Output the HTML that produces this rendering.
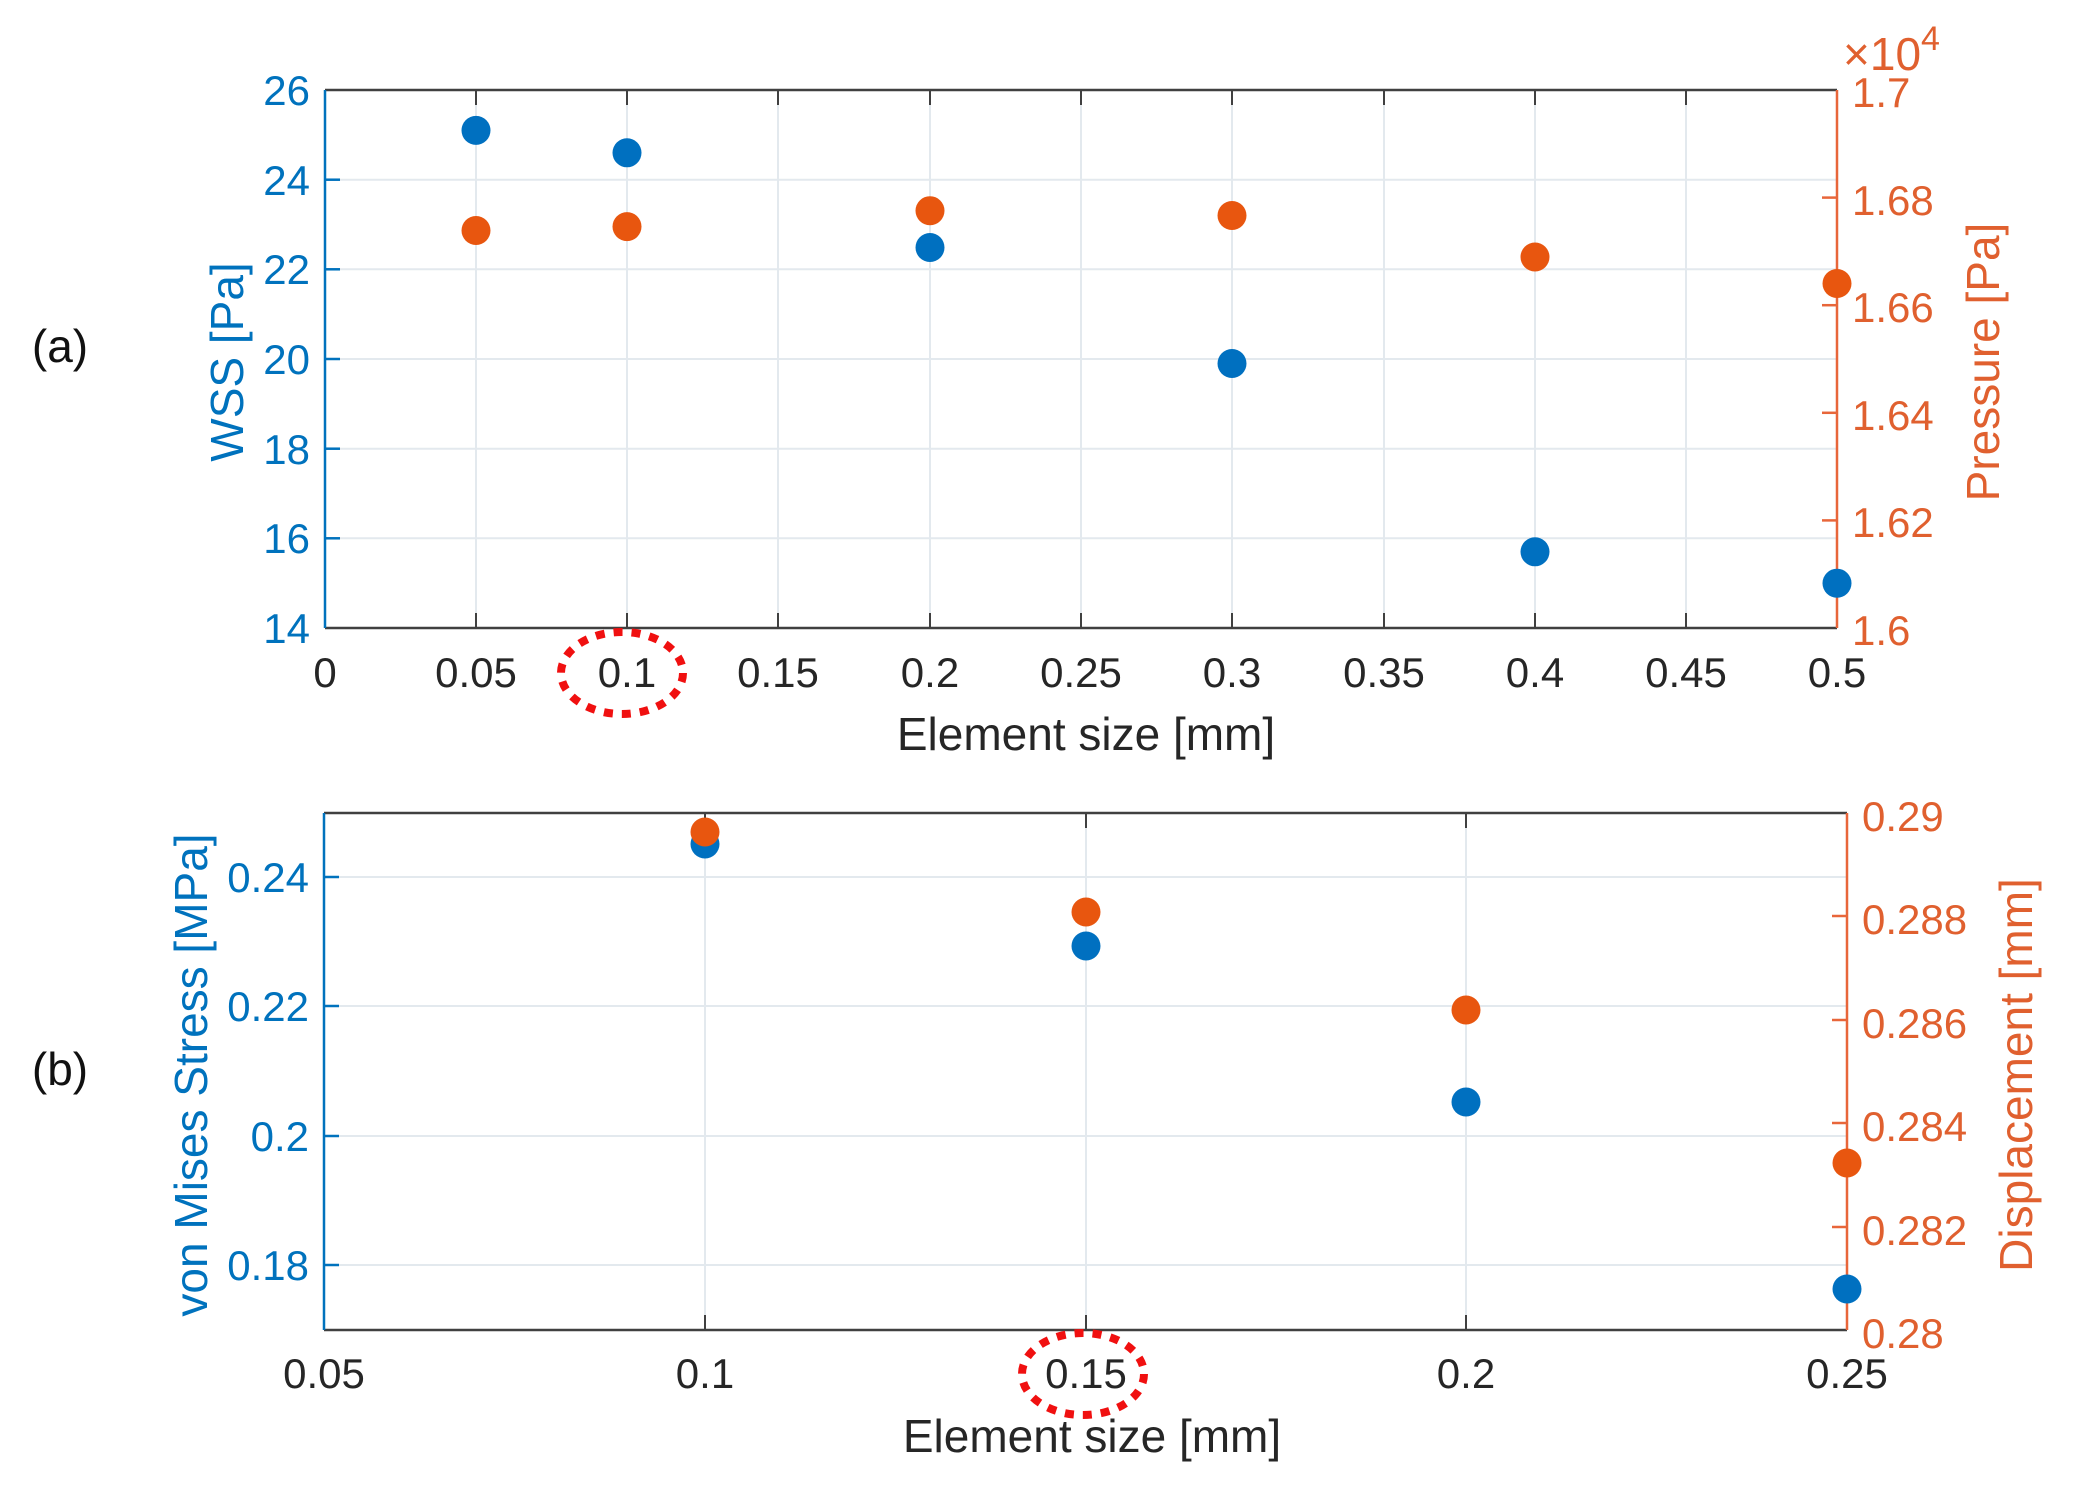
<!DOCTYPE html>
<html><head><meta charset="utf-8"><style>html,body{margin:0;padding:0;background:#fff}svg{display:block}</style></head>
<body>
<svg width="2076" height="1493" viewBox="0 0 2076 1493" xmlns="http://www.w3.org/2000/svg" font-family="Liberation Sans, Arial, sans-serif">
<rect width="2076" height="1493" fill="#fff"/>
<!-- Panel a grid -->
<g stroke="#e3e9ee" stroke-width="2">
<line x1="476" y1="90" x2="476" y2="628"/><line x1="627" y1="90" x2="627" y2="628"/><line x1="778" y1="90" x2="778" y2="628"/><line x1="930" y1="90" x2="930" y2="628"/><line x1="1081" y1="90" x2="1081" y2="628"/><line x1="1232" y1="90" x2="1232" y2="628"/><line x1="1384" y1="90" x2="1384" y2="628"/><line x1="1535" y1="90" x2="1535" y2="628"/><line x1="1686" y1="90" x2="1686" y2="628"/>
<line x1="325" y1="538.3" x2="1837" y2="538.3"/><line x1="325" y1="448.7" x2="1837" y2="448.7"/><line x1="325" y1="359" x2="1837" y2="359"/><line x1="325" y1="269.3" x2="1837" y2="269.3"/><line x1="325" y1="179.7" x2="1837" y2="179.7"/>
</g>
<g stroke="#404040" stroke-width="2.5"><line x1="325" y1="90" x2="1837" y2="90"/><line x1="325" y1="628" x2="1837" y2="628"/></g>
<g stroke="#404040" stroke-width="2">
<line x1="476" y1="628" x2="476" y2="613"/><line x1="627" y1="628" x2="627" y2="613"/><line x1="778" y1="628" x2="778" y2="613"/><line x1="930" y1="628" x2="930" y2="613"/><line x1="1081" y1="628" x2="1081" y2="613"/><line x1="1232" y1="628" x2="1232" y2="613"/><line x1="1384" y1="628" x2="1384" y2="613"/><line x1="1535" y1="628" x2="1535" y2="613"/><line x1="1686" y1="628" x2="1686" y2="613"/>
<line x1="476" y1="90" x2="476" y2="105"/><line x1="627" y1="90" x2="627" y2="105"/><line x1="778" y1="90" x2="778" y2="105"/><line x1="930" y1="90" x2="930" y2="105"/><line x1="1081" y1="90" x2="1081" y2="105"/><line x1="1232" y1="90" x2="1232" y2="105"/><line x1="1384" y1="90" x2="1384" y2="105"/><line x1="1535" y1="90" x2="1535" y2="105"/><line x1="1686" y1="90" x2="1686" y2="105"/>
</g>
<g stroke="#0072BD" stroke-width="2.5"><line x1="325" y1="90" x2="325" y2="628"/>
<line x1="325" y1="538.3" x2="340" y2="538.3"/><line x1="325" y1="448.7" x2="340" y2="448.7"/><line x1="325" y1="359" x2="340" y2="359"/><line x1="325" y1="269.3" x2="340" y2="269.3"/><line x1="325" y1="179.7" x2="340" y2="179.7"/></g>
<g stroke="#E8663A" stroke-width="2.5"><line x1="1837" y1="90" x2="1837" y2="628"/>
<line x1="1837" y1="520.4" x2="1822" y2="520.4"/><line x1="1837" y1="412.8" x2="1822" y2="412.8"/><line x1="1837" y1="305.2" x2="1822" y2="305.2"/><line x1="1837" y1="197.6" x2="1822" y2="197.6"/></g>
<g fill="#0072BD" font-size="42" text-anchor="end">
<text x="310" y="643">14</text><text x="310" y="553">16</text><text x="310" y="464">18</text><text x="310" y="374">20</text><text x="310" y="284">22</text><text x="310" y="195">24</text><text x="310" y="105">26</text></g>
<g fill="#E0602F" font-size="42">
<text x="1852" y="645">1.6</text><text x="1852" y="537">1.62</text><text x="1852" y="430">1.64</text><text x="1852" y="322">1.66</text><text x="1852" y="215">1.68</text><text x="1852" y="107">1.7</text>
<text x="1843" y="70" font-size="46">×10<tspan font-size="34" dy="-20">4</tspan></text></g>
<g fill="#262626" font-size="42" text-anchor="middle">
<text x="325" y="687">0</text><text x="476" y="687">0.05</text><text x="627" y="687">0.1</text><text x="778" y="687">0.15</text><text x="930" y="687">0.2</text><text x="1081" y="687">0.25</text><text x="1232" y="687">0.3</text><text x="1384" y="687">0.35</text><text x="1535" y="687">0.4</text><text x="1686" y="687">0.45</text><text x="1837" y="687">0.5</text>
<text x="1086" y="750" font-size="46">Element size [mm]</text></g>
<text transform="translate(243,362) rotate(-90)" fill="#0072BD" font-size="46" text-anchor="middle">WSS [Pa]</text>
<text transform="translate(1999,362) rotate(-90)" fill="#E0602F" font-size="46" text-anchor="middle">Pressure [Pa]</text>
<text x="60" y="362" font-size="46" fill="#111" text-anchor="middle">(a)</text>
<ellipse cx="622" cy="673" rx="61" ry="41" fill="none" stroke="#f01010" stroke-width="8" stroke-dasharray="9 9"/>
<g fill="#E8560F">
<circle cx="476" cy="230.5" r="14.5"/><circle cx="627" cy="226.6" r="14.5"/><circle cx="930" cy="210.7" r="14.5"/><circle cx="1232" cy="215.5" r="14.5"/><circle cx="1535" cy="257" r="14.5"/><circle cx="1837" cy="283.5" r="14.5"/></g>
<g fill="#0070C0">
<circle cx="476" cy="130.4" r="14.5"/><circle cx="627" cy="152.8" r="14.5"/><circle cx="930" cy="247.5" r="14.5"/><circle cx="1232" cy="363.5" r="14.5"/><circle cx="1535" cy="551.8" r="14.5"/><circle cx="1837" cy="583.2" r="14.5"/></g>

<!-- Panel b -->
<g stroke="#e3e9ee" stroke-width="2">
<line x1="705" y1="813" x2="705" y2="1330"/><line x1="1086" y1="813" x2="1086" y2="1330"/><line x1="1466" y1="813" x2="1466" y2="1330"/>
<line x1="324" y1="1265" x2="1847" y2="1265"/><line x1="324" y1="1136" x2="1847" y2="1136"/><line x1="324" y1="1006" x2="1847" y2="1006"/><line x1="324" y1="877" x2="1847" y2="877"/>
</g>
<g stroke="#404040" stroke-width="2.5"><line x1="324" y1="813" x2="1847" y2="813"/><line x1="324" y1="1330" x2="1847" y2="1330"/></g>
<g stroke="#404040" stroke-width="2">
<line x1="705" y1="1330" x2="705" y2="1315"/><line x1="1086" y1="1330" x2="1086" y2="1315"/><line x1="1466" y1="1330" x2="1466" y2="1315"/>
<line x1="705" y1="813" x2="705" y2="828"/><line x1="1086" y1="813" x2="1086" y2="828"/><line x1="1466" y1="813" x2="1466" y2="828"/></g>
<g stroke="#0072BD" stroke-width="2.5"><line x1="324" y1="813" x2="324" y2="1330"/>
<line x1="324" y1="1265" x2="339" y2="1265"/><line x1="324" y1="1136" x2="339" y2="1136"/><line x1="324" y1="1006" x2="339" y2="1006"/><line x1="324" y1="877" x2="339" y2="877"/></g>
<g stroke="#E8663A" stroke-width="2.5"><line x1="1847" y1="813" x2="1847" y2="1330"/>
<line x1="1847" y1="1227" x2="1832" y2="1227"/><line x1="1847" y1="1123" x2="1832" y2="1123"/><line x1="1847" y1="1020" x2="1832" y2="1020"/><line x1="1847" y1="916" x2="1832" y2="916"/></g>
<g fill="#0072BD" font-size="42" text-anchor="end">
<text x="309" y="1280">0.18</text><text x="309" y="1151">0.2</text><text x="309" y="1021">0.22</text><text x="309" y="892">0.24</text></g>
<g fill="#E0602F" font-size="42">
<text x="1862" y="1348">0.28</text><text x="1862" y="1245">0.282</text><text x="1862" y="1141">0.284</text><text x="1862" y="1038">0.286</text><text x="1862" y="934">0.288</text><text x="1862" y="831">0.29</text></g>
<g fill="#262626" font-size="42" text-anchor="middle">
<text x="324" y="1388">0.05</text><text x="705" y="1388">0.1</text><text x="1086" y="1388">0.15</text><text x="1466" y="1388">0.2</text><text x="1847" y="1388">0.25</text>
<text x="1092" y="1452" font-size="46">Element size [mm]</text></g>
<text transform="translate(207,1075) rotate(-90)" fill="#0072BD" font-size="46" text-anchor="middle">von Mises Stress [MPa]</text>
<text transform="translate(2032,1075) rotate(-90)" fill="#E0602F" font-size="46" text-anchor="middle">Displacement [mm]</text>
<text x="60" y="1085" font-size="46" fill="#111" text-anchor="middle">(b)</text>
<ellipse cx="1083" cy="1374" rx="61" ry="41" fill="none" stroke="#f01010" stroke-width="8" stroke-dasharray="9 9"/>
<g fill="#0070C0">
<circle cx="705" cy="844" r="14.5"/><circle cx="1086" cy="946" r="14.5"/><circle cx="1466" cy="1102" r="14.5"/><circle cx="1847" cy="1289" r="14.5"/></g>
<g fill="#E8560F">
<circle cx="705" cy="832" r="14.5"/><circle cx="1086" cy="912" r="14.5"/><circle cx="1466" cy="1010" r="14.5"/><circle cx="1847" cy="1163" r="14.5"/></g>
</svg>
</body></html>
